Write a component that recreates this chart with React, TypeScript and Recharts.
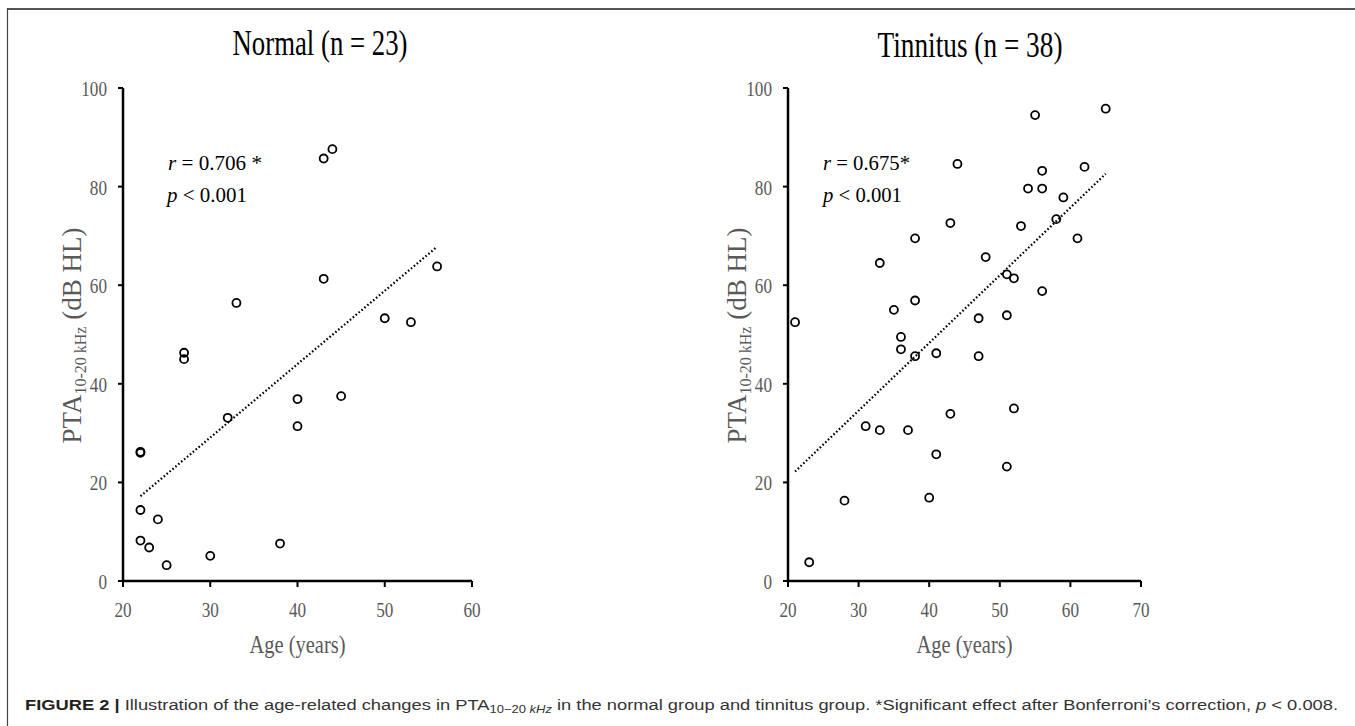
import { ScatterChart, Scatter, XAxis, YAxis, ReferenceLine, Label } from 'recharts';

// Normal group (n = 23)
const normalAge = [22, 22, 22, 22, 23, 24, 25, 27, 27, 30, 32, 33, 38, 40, 40, 43, 43, 44, 45, 50, 53, 56];
const normalPta = [26.2, 26.0, 14.4, 8.2, 6.8, 12.5, 3.2, 46.3, 45.0, 5.1, 33.1, 56.4, 7.6, 36.9, 31.4, 85.7, 61.3, 87.6, 37.5, 53.3, 52.5, 63.8];

// Tinnitus group (n = 38)
const tinnitusAge = [21, 23, 28, 31, 33, 33, 35, 36, 36, 37, 38, 38, 38, 40, 41, 41, 43, 43, 44, 47, 47, 48, 51, 51, 51, 52, 52, 53, 54, 55, 56, 56, 56, 58, 59, 61, 62, 65];
const tinnitusPta = [52.5, 3.8, 16.3, 31.4, 30.6, 64.5, 55.0, 49.5, 47.0, 30.6, 56.9, 45.6, 69.5, 16.9, 46.2, 25.7, 33.9, 72.6, 84.6, 53.3, 45.6, 65.7, 62.2, 53.9, 23.2, 61.4, 35.0, 72.0, 79.6, 94.5, 83.2, 79.6, 58.8, 73.4, 77.8, 69.5, 84.0, 95.8];

// regression line end points
const normalTrendAge = [22, 56];
const normalTrendPta = [17.2, 67.8];
const tinnitusTrendAge = [21, 65];
const tinnitusTrendPta = [22.2, 82.6];

const yTicks = [0, 20, 40, 60, 80, 100];
const normalXTicks = [20, 30, 40, 50, 60];
const tinnitusXTicks = [20, 30, 40, 50, 60, 70];

const SERIF = '"Liberation Serif", "Times New Roman", serif';
const SANS = '"Liberation Sans", Arial, sans-serif';
const GRAY = '#595959';

const toPoints = (ages: number[], ptas: number[]) => ages.map((age, i) => ({ age, pta: ptas[i] }));

const OpenCircle = (props: any) => (
  <circle cx={props.cx} cy={props.cy} r={4} fill="none" stroke="#000" strokeWidth={1.8} />
);

const XTick = ({ x, y, payload }: any) => (
  <text
    transform={`translate(${x},${y}) scale(0.78,1)`}
    dy={26}
    textAnchor="middle"
    fontSize={22}
    fontFamily={SERIF}
    fill={GRAY}
  >
    {payload.value}
  </text>
);

const YTick = ({ x, y, payload }: any) => (
  <text
    transform={`translate(${x},${y}) scale(0.78,1)`}
    dy={8}
    textAnchor="end"
    fontSize={22}
    fontFamily={SERIF}
    fill={GRAY}
  >
    {payload.value}
  </text>
);

const makeYLabel = (gap: number) => (props: any) => {
  const { x, y, width, height } = props.viewBox;
  const bx = x + width - gap;
  const cy = y + height / 2 + 1;
  return (
    <text
      transform={`translate(${bx},${cy}) rotate(-90)`}
      textAnchor="middle"
      fontSize={27}
      fontFamily={SERIF}
      fill={GRAY}
    >
      PTA
      <tspan fontSize={16} dy={5}>10-20 kHz</tspan>
      <tspan dy={-5}> (dB HL)</tspan>
    </text>
  );
};

const XLabel = (props: any) => {
  const { x, y, width } = props.viewBox;
  return (
    <text
      x={x + width / 2}
      y={y + 72}
      textAnchor="middle"
      textLength={96}
      lengthAdjust="spacingAndGlyphs"
      fontSize={25}
      fontFamily={SERIF}
      fill={GRAY}
    >
      Age (years)
    </text>
  );
};

interface PanelProps {
  left: number;
  width: number;
  yAxisWidth: number;
  rightMargin: number;
  labelGap: number;
  xTicks: number[];
  points: { age: number; pta: number }[];
  trendAge: number[];
  trendPta: number[];
}

function Panel({ left, width, yAxisWidth, rightMargin, labelGap, xTicks, points, trendAge, trendPta }: PanelProps) {
  const axisLine = { stroke: '#000', strokeWidth: 2.5 };
  const tickLine = { stroke: '#000', strokeWidth: 2 };
  return (
    <div style={{ position: 'absolute', left, top: 0 }}>
      <ScatterChart width={width} height={726} margin={{ top: 88, right: rightMargin, bottom: 45, left: 0 }}>
        <XAxis
          type="number"
          dataKey="age"
          domain={[xTicks[0], xTicks[xTicks.length - 1]]}
          ticks={xTicks}
          height={100}
          axisLine={axisLine}
          tickLine={tickLine}
          tickSize={6}
          tickMargin={4}
          tick={<XTick />}
        >
          <Label content={XLabel} />
        </XAxis>
        <YAxis
          type="number"
          dataKey="pta"
          domain={[0, 100]}
          ticks={yTicks}
          width={yAxisWidth}
          axisLine={axisLine}
          tickLine={tickLine}
          tickSize={5}
          tickMargin={11}
          tick={<YTick />}
        >
          <Label content={makeYLabel(labelGap)} />
        </YAxis>
        <ReferenceLine
          segment={[
            { x: trendAge[0], y: trendPta[0] },
            { x: trendAge[1], y: trendPta[1] },
          ]}
          stroke="#000"
          strokeWidth={2.2}
          strokeDasharray="1.6 2.2"
        />
        <Scatter data={points} shape={OpenCircle} isAnimationActive={false} />
      </ScatterChart>
    </div>
  );
}

export default function App() {
  return (
    <div style={{ position: 'absolute', left: 0, top: 0, width: 1355, height: 726, background: '#fff', overflow: 'hidden' }}>
      <Panel
        left={0}
        width={680}
        yAxisWidth={123}
        rightMargin={208}
        labelGap={42}
        xTicks={normalXTicks}
        points={toPoints(normalAge, normalPta)}
        trendAge={normalTrendAge}
        trendPta={normalTrendPta}
      />
      <Panel
        left={680}
        width={675}
        yAxisWidth={108}
        rightMargin={214}
        labelGap={42}
        xTicks={tinnitusXTicks}
        points={toPoints(tinnitusAge, tinnitusPta)}
        trendAge={tinnitusTrendAge}
        trendPta={tinnitusTrendPta}
      />
      <svg width={1355} height={726} style={{ position: 'absolute', left: 0, top: 0, pointerEvents: 'none' }}>
        <line x1={7} y1={9} x2={1355} y2={9} stroke="#555" strokeWidth={2} />
        <line x1={7.5} y1={8} x2={7.5} y2={726} stroke="#444" strokeWidth={1.2} />

        <g fontFamily={SERIF} fill="#000">
          <text x={320} y={55} textAnchor="middle" fontSize={35} textLength={175} lengthAdjust="spacingAndGlyphs">
            Normal (n = 23)
          </text>
          <text x={970} y={57} textAnchor="middle" fontSize={35} textLength={185} lengthAdjust="spacingAndGlyphs">
            Tinnitus (n = 38)
          </text>

          <text x={168} y={170} fontSize={22} textLength={94} lengthAdjust="spacingAndGlyphs">
            <tspan fontStyle="italic">r</tspan> = 0.706 *
          </text>
          <text x={167} y={202} fontSize={22} textLength={80} lengthAdjust="spacingAndGlyphs">
            <tspan fontStyle="italic">p</tspan> &lt; 0.001
          </text>
          <text x={823} y={170} fontSize={22} textLength={87} lengthAdjust="spacingAndGlyphs">
            <tspan fontStyle="italic">r</tspan> = 0.675*
          </text>
          <text x={823} y={202} fontSize={22} textLength={79} lengthAdjust="spacingAndGlyphs">
            <tspan fontStyle="italic">p</tspan> &lt; 0.001
          </text>
        </g>

        <text x={25} y={710} fontFamily={SANS} fontSize={15.5} fill="#333" textLength={1313} lengthAdjust="spacingAndGlyphs">
          <tspan fontWeight="bold" fill="#231f20">FIGURE 2 | </tspan>
          Illustration of the age-related changes in PTA
          <tspan fontSize={11} dy={3}>10−20 </tspan>
          <tspan fontSize={11} fontStyle="italic">kHz</tspan>
          <tspan dy={-3}> in the normal group and tinnitus group. *Significant effect after Bonferroni’s correction, </tspan>
          <tspan fontStyle="italic">p</tspan> &lt; 0.008.
        </text>
      </svg>
    </div>
  );
}
